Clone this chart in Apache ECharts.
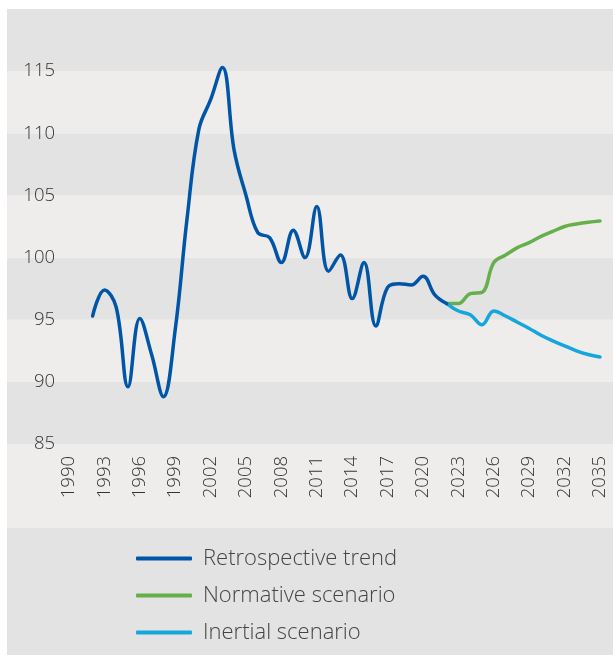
<!DOCTYPE html>
<html>
<head>
<meta charset="utf-8">
<script src="https://cdn.jsdelivr.net/npm/echarts@6/dist/echarts.min.js"></script>
<style>
  html, body { margin: 0; padding: 0; background: #fff; }
  #chart {
    position: absolute; left: 7px; top: 9px; width: 606px; height: 646px;
    background: linear-gradient(to bottom, transparent 0, transparent 435px, #eeedeb 435px, #eeedeb 519px, #e3e3e3 519px);
  }
</style>
</head>
<body>
<div id="chart"></div>
<script>
// retrospective trend, one value per year
var retroYears = [1992, 1993, 1994, 1995, 1996, 1997, 1998, 1999, 2000, 2001, 2002, 2003, 2004, 2005, 2006,
  2007, 2008, 2009, 2010, 2011, 2012, 2013, 2014, 2015, 2016, 2017, 2018, 2019, 2020, 2021, 2022];
var retroValues = [95.3, 97.4, 96.0, 89.6, 95.1, 92.2, 88.8, 94.2, 103.1, 110.3, 112.7, 115.3, 108.6, 105.0, 102.0,
  101.6, 99.6, 102.2, 100.0, 104.1, 98.9, 100.2, 96.7, 99.6, 94.5, 97.6, 97.9, 97.8, 98.5, 97.0, 96.3];

// scenarios start where the trend ends
var scenYears = [2022, 2023, 2024, 2025, 2026, 2027, 2028, 2029, 2030, 2031, 2032, 2033, 2034, 2035];
var normativeValues = [96.3, 96.3, 97.1, 97.2, 99.6, 100.2, 100.8, 101.2, 101.7, 102.1, 102.5, 102.7, 102.85, 102.95];
var inertialValues = [96.3, 95.7, 95.4, 94.6, 95.7, 95.3, 94.8, 94.3, 93.75, 93.3, 92.9, 92.5, 92.2, 92.0];

var yearTicks = [1990, 1993, 1996, 1999, 2002, 2005, 2008, 2011, 2014, 2017, 2020, 2023, 2026, 2029, 2032, 2035];
var seriesNames = ['Retrospective trend', 'Normative scenario', 'Inertial scenario'];

function pairs(xs, ys) {
  return xs.map(function (x, i) { return [x, ys[i]]; });
}

var font = '"Open Sans", Lato, sans-serif';
var myChart = echarts.init(document.getElementById('chart'));
myChart.setOption({
  animation: false,
  grid: { left: 0, right: 0, top: 0, bottom: 211 },
  legend: {
    data: seriesNames,
    orient: 'vertical',
    left: 124,
    top: 532.5,
    icon: 'roundRect',
    itemWidth: 56,
    itemHeight: 4,
    itemGap: 13,
    textStyle: { fontFamily: font, fontWeight: 300, fontSize: 22, color: '#444', lineHeight: 24, padding: [0, 0, 0, 6] }
  },
  xAxis: {
    type: 'value',
    min: 1984.746,
    max: 2036.1,
    axisLine: { show: false },
    axisTick: { show: false },
    splitLine: { show: false },
    axisLabel: {
      customValues: yearTicks,
      rotate: 90,
      margin: 12,
      fontFamily: font,
      fontWeight: 300,
      fontSize: 18.5,
      color: '#333',
      formatter: function (v) { return String(v); }
    }
  },
  yAxis: {
    type: 'value',
    min: 85,
    max: 120,
    interval: 5,
    axisLine: { show: false },
    axisTick: { show: false },
    splitLine: { show: false },
    splitArea: { show: true, areaStyle: { color: ['#e3e3e3', '#eeedeb'] } },
    axisLabel: {
      inside: true,
      margin: 48,
      align: 'right',
      fontFamily: font,
      fontWeight: 300,
      fontSize: 18.5,
      color: '#333',
      formatter: function (v) { return v === 120 ? '' : v; }
    }
  },
  series: [
    {
      name: seriesNames[1],
      type: 'line',
      data: pairs(scenYears, normativeValues),
      smooth: 0.4,
      showSymbol: false,
      itemStyle: { color: '#66b04b' },
      lineStyle: { color: '#66b04b', width: 3.5, cap: 'round' }
    },
    {
      name: seriesNames[2],
      type: 'line',
      data: pairs(scenYears, inertialValues),
      smooth: 0.4,
      showSymbol: false,
      itemStyle: { color: '#17a5dd' },
      lineStyle: { color: '#17a5dd', width: 3.5, cap: 'round' }
    },
    {
      name: seriesNames[0],
      type: 'line',
      data: pairs(retroYears, retroValues),
      smooth: 0.4,
      showSymbol: false,
      itemStyle: { color: '#0055a6' },
      lineStyle: { color: '#0055a6', width: 3.5, cap: 'round' }
    }
  ]
});
window.onresize = function () { myChart.resize(); };
</script>
</body>
</html>
